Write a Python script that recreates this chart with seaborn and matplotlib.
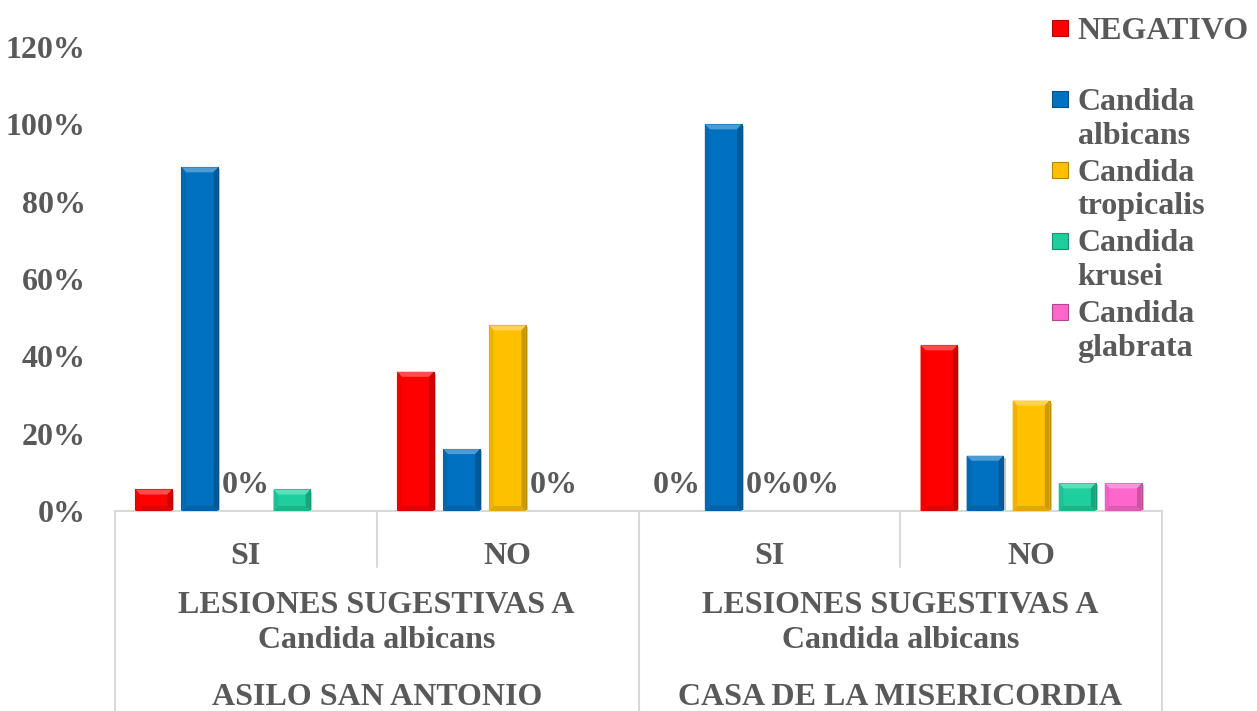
import matplotlib
matplotlib.use("Agg")
import numpy as np
import pandas as pd
import seaborn as sns
import matplotlib.pyplot as plt
import matplotlib.colors as mcolors
import matplotlib.transforms as mtransforms
from matplotlib.patches import Rectangle, Polygon
from matplotlib.lines import Line2D
from matplotlib.legend_handler import HandlerBase
from matplotlib import patheffects as pe

# ---- data -------------------------------------------------------------
places = ["ASILO SAN ANTONIO", "CASA DE LA MISERICORDIA"]
lesion_title = "LESIONES SUGESTIVAS A\nCandida albicans"
answers = ["SI", "NO"]
species = ["NEGATIVO", "Candida albicans", "Candida tropicalis",
           "Candida krusei", "Candida glabrata"]
legend_labels = ["NEGATIVO\n", "Candida\nalbicans", "Candida\ntropicalis",
                 "Candida\nkrusei", "Candida\nglabrata"]

# shares per column: asilo SI, asilo NO, casa SI, casa NO
negativo = [0.0556, 0.36, 0.0, 0.4286]
albicans = [0.8889, 0.16, 1.0, 0.1429]
tropicalis = [0.0, 0.48, 0.0, 0.2857]
krusei = [0.0556, 0.0, 0.0, 0.0714]
glabrata = [np.nan, np.nan, np.nan, 0.0714]

y_ticks = [0.0, 0.2, 0.4, 0.6, 0.8, 1.0, 1.2]
colors = ["#FF0000", "#0070C0", "#FFC000", "#1CCF9C", "#FF66CC"]

# ---- long table -------------------------------------------------------
columns = [f"{p}|{a}" for p in places for a in answers]
series = [negativo, albicans, tropicalis, krusei, glabrata]
rows = []
for sp, vals in zip(species, series):
    for col, v in zip(columns, vals):
        rows.append({"col": col, "species": sp, "value": v})
df = pd.DataFrame(rows)

# ---- style ------------------------------------------------------------
sns.set_theme(style="white")
plt.rcParams["font.family"] = ["Liberation Serif", "DejaVu Serif"]
plt.rcParams["font.weight"] = "bold"
TXT = "#595959"
GRID = "#D9D9D9"
FS = 23

fig = plt.figure(figsize=(12.57, 7.11), dpi=100)
ax = fig.add_axes([115 / 1257, 0.2813, 1047 / 1257, 0.6526])

sns.barplot(data=df, x="col", y="value", hue="species", order=columns,
            hue_order=species, palette=colors, width=0.88, gap=0.2,
            saturation=1, errorbar=None, legend=False, ax=ax)


def shade(c, f):
    r, g, b = mcolors.to_rgb(c)
    if f >= 0:
        return (r + (1 - r) * f, g + (1 - g) * f, b + (1 - b) * f)
    return (r * (1 + f), g * (1 + f), b * (1 + f))


# bevelled look for each drawn bar
bx = 0.018
by = 0.013
for cont, col in zip(ax.containers, colors):
    for p in cont.patches:
        x0, w, h = p.get_x(), p.get_width(), p.get_height()
        if not np.isfinite(h) or h <= 0:
            continue
        p.set_edgecolor(shade(col, -0.25))
        p.set_linewidth(0.8)
        p.set_path_effects([pe.SimplePatchShadow(offset=(1.5, -1.5),
                                                 alpha=0.25), pe.Normal()])
        bev = min(by, h / 2)
        top = Polygon([(x0, h), (x0 + w, h), (x0 + w - bx, h - bev),
                       (x0 + bx, h - bev)], closed=True,
                      facecolor=shade(col, 0.3), edgecolor="none", zorder=3)
        bot = Polygon([(x0, 0), (x0 + w, 0), (x0 + w - bx, bev),
                       (x0 + bx, bev)], closed=True,
                      facecolor=shade(col, -0.12), edgecolor="none", zorder=3)
        left = Polygon([(x0, 0), (x0 + bx, bev), (x0 + bx, h - bev), (x0, h)],
                       closed=True, facecolor=shade(col, -0.06),
                       edgecolor="none", zorder=3)
        right = Polygon([(x0 + w, 0), (x0 + w - bx, bev),
                         (x0 + w - bx, h - bev), (x0 + w, h)],
                        closed=True, facecolor=shade(col, -0.2),
                        edgecolor="none", zorder=3)
        for poly in (top, bot, left, right):
            ax.add_patch(poly)

# zero shares are labelled
for cont in ax.containers:
    labels = ["0%" if (np.isfinite(v) and v == 0) else ""
              for v in cont.datavalues]
    ax.bar_label(cont, labels=labels, padding=8, fontsize=FS,
                 fontweight="bold", color=TXT)

# ---- axes -------------------------------------------------------------
ax.set_ylim(0, 1.2)
ax.set_xlim(-0.5, len(columns) - 0.5)
ax.set_yticks(y_ticks)
ax.set_yticklabels([f"{int(round(t * 100))}%" for t in y_ticks])
ax.set_xticks(range(len(columns)))
ax.set_xticklabels([c.split("|")[1] for c in columns])
ax.tick_params(axis="y", length=0, pad=21, labelsize=FS, labelcolor=TXT)
ax.tick_params(axis="x", length=0, pad=22, labelsize=FS, labelcolor=TXT)
for lab in ax.get_xticklabels() + ax.get_yticklabels():
    lab.set_fontweight("bold")
ax.set_xlabel("")
ax.set_ylabel("")
for s in ("left", "right", "top"):
    ax.spines[s].set_visible(False)
ax.spines["bottom"].set_color(GRID)
ax.spines["bottom"].set_linewidth(1.5)
ax.grid(False)

# multi-level category axis
tr = mtransforms.blended_transform_factory(ax.transData, ax.transAxes)
bottom_y = -0.431
for xb in [-0.5, 1.5, 3.5]:
    ax.add_line(Line2D([xb, xb], [0, bottom_y], transform=tr, color=GRID,
                       lw=1.5, clip_on=False))
for xb in [0.5, 2.5]:
    ax.add_line(Line2D([xb, xb], [0, -0.1207], transform=tr, color=GRID,
                       lw=1.5, clip_on=False))
for i, place in enumerate(places):
    xc = 2 * i + 0.5
    ax.text(xc, -0.2414, lesion_title, transform=tr, ha="center",
            va="center", fontsize=FS, fontweight="bold", color=TXT,
            linespacing=1.3)
    ax.text(xc, -0.4009, place, transform=tr, ha="center", va="center",
            fontsize=FS, fontweight="bold", color=TXT)


# ---- legend -----------------------------------------------------------
class TopSquare(HandlerBase):
    def create_artists(self, legend, orig_handle, xdescent, ydescent,
                       width, height, fontsize, trans):
        s = width
        y0 = -ydescent + height / 2 - s / 2 + 0.62 * fontsize
        r = Rectangle((-xdescent, y0), s, s,
                      facecolor=orig_handle.get_facecolor(),
                      edgecolor=orig_handle.get_edgecolor(), lw=0.8,
                      transform=trans)
        return [r]


handles = [Rectangle((0, 0), 1, 1, facecolor=c, edgecolor=shade(c, -0.3))
           for c in colors]
leg = fig.legend(handles, legend_labels, loc="upper left",
                 bbox_to_anchor=(1052 / 1257, 1 - 17 / 711), frameon=False,
                 handlelength=0.5, handletextpad=0.3, labelspacing=0.25,
                 borderaxespad=0, borderpad=0,
                 handler_map={Rectangle: TopSquare()},
                 prop={"size": FS, "weight": "bold"})
for t in leg.get_texts():
    t.set_color(TXT)
    t.set_linespacing(1.22)

fig.savefig("out.png", dpi=100)
